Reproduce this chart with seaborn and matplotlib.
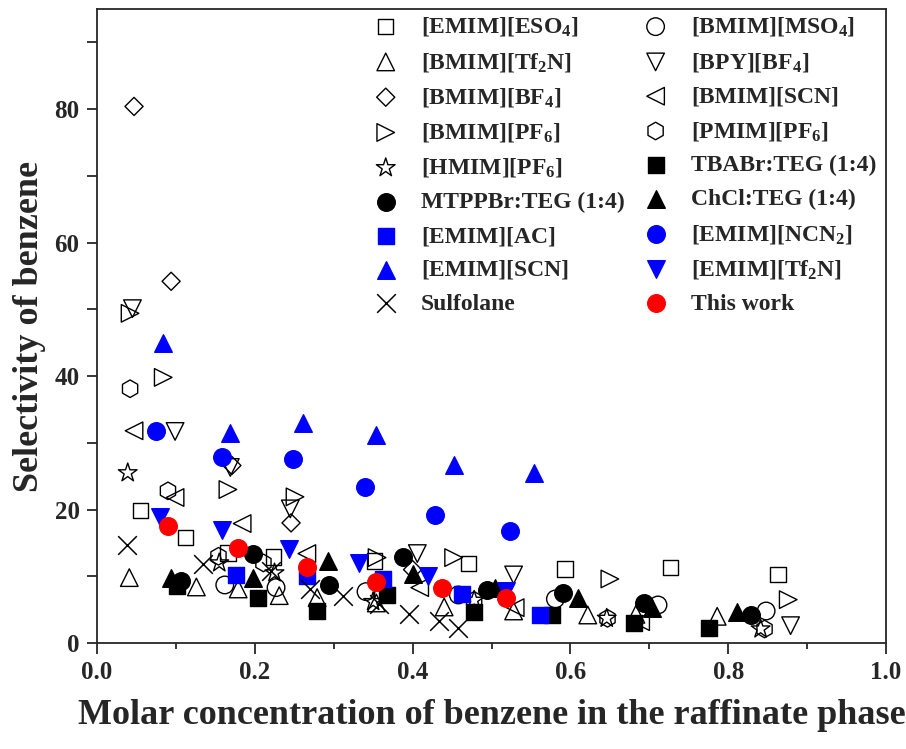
import numpy as np
import pandas as pd
import matplotlib
matplotlib.use('Agg')
import matplotlib.pyplot as plt
import seaborn as sns
from matplotlib.ticker import MultipleLocator, FormatStrFormatter

# Dados (x = fração molar de benzeno no rafinado, y = seletividade)
eso4_x = [0.055, 0.112, 0.166, 0.224, 0.352, 0.471, 0.593, 0.727, 0.863]
eso4_y = [19.8, 15.8, 13.5, 12.9, 12.3, 11.9, 11.1, 11.3, 10.3]

mso4_x = [0.162, 0.227, 0.341, 0.458, 0.581, 0.711, 0.848]
mso4_y = [8.7, 8.3, 7.7, 7.2, 6.6, 5.7, 4.8]

tf2n_x = [0.041, 0.126, 0.179, 0.231, 0.279, 0.354, 0.440, 0.528, 0.622, 0.683, 0.786]
tf2n_y = [9.8, 8.4, 8.1, 7.1, 6.8, 6.0, 5.4, 4.8, 4.2, 4.3, 4.0]

bpy_x = [0.045, 0.099, 0.169, 0.245, 0.406, 0.528, 0.879]
bpy_y = [50.1, 31.7, 26.3, 20.1, 13.4, 10.2, 2.6]

bf4_x = [0.047, 0.094, 0.171, 0.246, 0.400]
bf4_y = [80.4, 54.2, 26.6, 18.0, 11.0]

bscn_x = [0.047, 0.099, 0.184, 0.266, 0.409, 0.530, 0.689]
bscn_y = [31.8, 21.8, 17.9, 13.4, 8.3, 5.3, 3.2]

bpf6_x = [0.042, 0.084, 0.166, 0.251, 0.355, 0.452, 0.650, 0.876]
bpf6_y = [49.4, 39.8, 23.0, 21.9, 12.8, 12.8, 9.6, 6.5]

ppf6_x = [0.042, 0.090, 0.154, 0.211, 0.478, 0.647, 0.846]
ppf6_y = [38.1, 22.8, 13.0, 12.0, 6.4, 3.7, 2.1]

hpf6_x = [0.039, 0.155, 0.225, 0.350, 0.478, 0.646, 0.841]
hpf6_y = [25.5, 12.0, 10.5, 6.2, 6.4, 3.7, 2.1]

tbabr_x = [0.102, 0.204, 0.279, 0.368, 0.478, 0.577, 0.680, 0.775]
tbabr_y = [8.6, 6.8, 4.8, 7.2, 4.6, 4.2, 3.0, 2.3]

mtpp_x = [0.107, 0.198, 0.294, 0.388, 0.494, 0.591, 0.693, 0.829]
mtpp_y = [9.3, 13.3, 8.7, 12.9, 7.9, 7.5, 6.0, 4.2]

chcl_x = [0.094, 0.198, 0.293, 0.400, 0.504, 0.609, 0.704, 0.811]
chcl_y = [9.8, 9.8, 12.3, 10.4, 8.3, 6.8, 5.3, 4.7]

ac_x = [0.176, 0.266, 0.362, 0.463, 0.562]
ac_y = [10.2, 10.1, 9.6, 7.4, 4.2]

ncn_x = [0.075, 0.159, 0.249, 0.340, 0.428, 0.523]
ncn_y = [31.8, 27.8, 27.5, 23.4, 19.2, 16.8]

escn_x = [0.084, 0.169, 0.261, 0.353, 0.452, 0.554]
escn_y = [44.9, 31.4, 32.9, 31.1, 26.7, 25.4]

etf2n_x = [0.080, 0.159, 0.244, 0.332, 0.419, 0.519]
etf2n_y = [18.9, 17.0, 14.1, 12.0, 10.1, 7.8]

sulf_x = [0.038, 0.134, 0.220, 0.270, 0.312, 0.357, 0.396, 0.434, 0.458]
sulf_y = [14.7, 11.9, 10.8, 8.1, 7.0, 5.8, 4.4, 3.3, 2.2]

tw_x = [0.090, 0.179, 0.266, 0.354, 0.437, 0.519]
tw_y = [17.6, 14.3, 11.4, 9.2, 8.2, 6.8]

# Configurações gráficas
sns.set_style('ticks')
plt.rcParams['font.family'] = ['Liberation Serif', 'DejaVu Serif']
plt.rcParams['font.weight'] = 'bold'
plt.rcParams['mathtext.fontset'] = 'custom'
plt.rcParams['mathtext.rm'] = 'Liberation Serif:bold'
plt.rcParams['mathtext.it'] = 'Liberation Serif:bold'
plt.rcParams['mathtext.bf'] = 'Liberation Serif:bold'
plt.rcParams['mathtext.default'] = 'rm'

# (rótulo, x, y, marcador, preenchimento, borda) - ordem da legenda (linha a linha)
series = [
    (r'[EMIM][ESO$_{4}$]', eso4_x, eso4_y, 's', 'none', 'black'),
    (r'[BMIM][MSO$_{4}$]', mso4_x, mso4_y, 'o', 'none', 'black'),
    (r'[BMIM][Tf$_{2}$N]', tf2n_x, tf2n_y, '^', 'none', 'black'),
    (r'[BPY][BF$_{4}$]', bpy_x, bpy_y, 'v', 'none', 'black'),
    (r'[BMIM][BF$_{4}$]', bf4_x, bf4_y, 'D', 'none', 'black'),
    ('[BMIM][SCN]', bscn_x, bscn_y, '<', 'none', 'black'),
    (r'[BMIM][PF$_{6}$]', bpf6_x, bpf6_y, '>', 'none', 'black'),
    (r'[PMIM][PF$_{6}$]', ppf6_x, ppf6_y, 'h', 'none', 'black'),
    (r'[HMIM][PF$_{6}$]', hpf6_x, hpf6_y, '*', 'none', 'black'),
    ('TBABr:TEG (1:4)', tbabr_x, tbabr_y, 's', 'black', 'black'),
    ('MTPPBr:TEG (1:4)', mtpp_x, mtpp_y, 'o', 'black', 'black'),
    ('ChCl:TEG (1:4)', chcl_x, chcl_y, '^', 'black', 'black'),
    ('[EMIM][AC]', ac_x, ac_y, 's', 'blue', 'blue'),
    (r'[EMIM][NCN$_{2}$]', ncn_x, ncn_y, 'o', 'blue', 'blue'),
    ('[EMIM][SCN]', escn_x, escn_y, '^', 'blue', 'blue'),
    (r'[EMIM][Tf$_{2}$N]', etf2n_x, etf2n_y, 'v', 'blue', 'blue'),
    ('Sulfolane', sulf_x, sulf_y, 'x', 'black', 'black'),
    ('This work', tw_x, tw_y, 'o', 'red', 'red'),
]

sizes = {'s': 120, 'o': 160, '^': 160, 'v': 160, 'D': 85, '<': 160,
         '>': 160, 'h': 160, '*': 200, 'x': 180}

fig, ax = plt.subplots(figsize=(9.06, 7.49), dpi=100)
fig.subplots_adjust(left=0.107, right=0.978, bottom=0.1415, top=0.988)

for label, xs, ys, mk, fc, ec in series:
    df = pd.DataFrame({'x': xs, 'y': ys})
    if mk == 'x':
        sns.scatterplot(data=df, x='x', y='y', marker=mk, color=fc, s=sizes[mk],
                        linewidth=1.1, label=label, ax=ax)
    else:
        sns.scatterplot(data=df, x='x', y='y', marker=mk, facecolor=fc, edgecolor=ec,
                        s=sizes[mk], linewidth=1.0, label=label, ax=ax)

ax.set_xlim(0, 1.0)
ax.set_ylim(0, 95)
ax.xaxis.set_major_locator(MultipleLocator(0.2))
ax.xaxis.set_minor_locator(MultipleLocator(0.1))
ax.yaxis.set_major_locator(MultipleLocator(20))
ax.yaxis.set_minor_locator(MultipleLocator(10))
ax.xaxis.set_major_formatter(FormatStrFormatter('%.1f'))
ax.tick_params(which='both', direction='out', width=1.3, labelsize=18)
ax.tick_params(axis='y', which='both', length=7.5, pad=5)
ax.tick_params(axis='x', which='major', length=8, pad=5)
ax.tick_params(axis='x', which='minor', length=4.5)
for sp in ax.spines.values():
    sp.set_linewidth(1.3)
    sp.set_visible(True)

ax.set_xlabel('Molar concentration of benzene in the raffinate phase', fontsize=26,
              fontweight='bold', labelpad=11)
ax.set_ylabel('Selectivity of benzene', fontsize=26, fontweight='bold', labelpad=6)

# legenda preenchida por linhas: reordenar para duas colunas
handles, labels = ax.get_legend_handles_labels()
order = list(range(0, len(handles), 2)) + list(range(1, len(handles), 2))
ax.legend([handles[i] for i in order], [labels[i] for i in order],
          loc='upper left', bbox_to_anchor=(0.351, 0.99), ncol=2, frameon=False,
          handlelength=1.0, handletextpad=1.0, columnspacing=0.8,
          labelspacing=0.52, borderpad=0, borderaxespad=0,
          prop={'weight': 'bold', 'size': 17})

plt.savefig('out.png', dpi=100)
